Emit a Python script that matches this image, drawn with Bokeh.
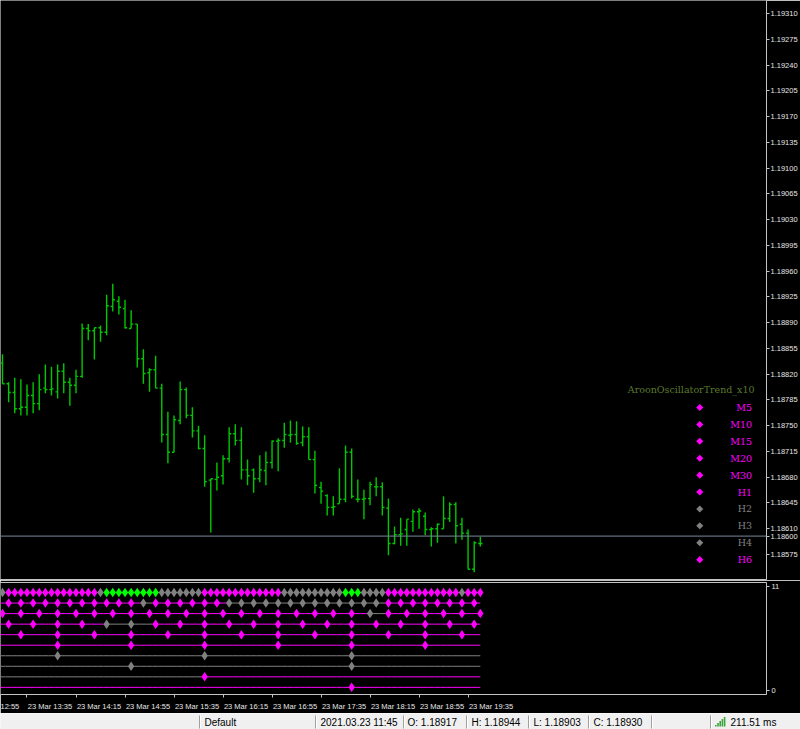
import numpy as np
from bokeh.plotting import figure
from bokeh.layouts import column
from bokeh.models import Range1d, LinearAxis, FixedTicker, NumeralTickFormatter, Span
from bokeh.core.properties import value
from bokeh.embed import file_html
from bokeh.resources import INLINE

# ---------------- data ----------------
first_bar_time = "13:15"
bar_minutes = 5

opens = [1.18835, 1.18807, 1.18795, 1.18773, 1.18775, 1.18791, 1.18780, 1.18801, 1.18799, 1.18796,
         1.18824, 1.18809, 1.18805, 1.18817, 1.18882, 1.18879, 1.18883, 1.18877, 1.18912, 1.18919,
         1.18909, 1.18882, 1.18888, 1.18841, 1.18822, 1.18826, 1.18801, 1.18738, 1.18714, 1.18757,
         1.18799, 1.18764, 1.18743, 1.18719, 1.18676, 1.18677, 1.18682, 1.18705, 1.18739, 1.18730,
         1.18690, 1.18690, 1.18678, 1.18689, 1.18700, 1.18729, 1.18730, 1.18737, 1.18738, 1.18727,
         1.18735, 1.18704, 1.18666, 1.18655, 1.18639, 1.18644, 1.18650, 1.18714, 1.18650, 1.18650,
         1.18651, 1.18667, 1.18667, 1.18638, 1.18590, 1.18602, 1.18609, 1.18620, 1.18633, 1.18627,
         1.18609, 1.18610, 1.18610, 1.18624, 1.18643, 1.18616, 1.18604, 1.18555, 1.18590]
highs = [1.18847, 1.18809, 1.18815, 1.18813, 1.18806, 1.18809, 1.18820, 1.18833, 1.18830, 1.18833,
         1.18835, 1.18815, 1.18826, 1.18889, 1.18888, 1.18883, 1.18886, 1.18928, 1.18943, 1.18926,
         1.18921, 1.18907, 1.18888, 1.18854, 1.18828, 1.18845, 1.18807, 1.18769, 1.18764, 1.18810,
         1.18802, 1.18775, 1.18750, 1.18737, 1.18678, 1.18700, 1.18710, 1.18748, 1.18752, 1.18748,
         1.18704, 1.18692, 1.18710, 1.18715, 1.18730, 1.18733, 1.18754, 1.18757, 1.18756, 1.18749,
         1.18748, 1.18716, 1.18674, 1.18657, 1.18654, 1.18692, 1.18723, 1.18719, 1.18677, 1.18663,
         1.18674, 1.18680, 1.18673, 1.18651, 1.18613, 1.18625, 1.18623, 1.18636, 1.18638, 1.18632,
         1.18612, 1.18617, 1.18654, 1.18646, 1.18646, 1.18625, 1.18609, 1.18593, 1.18599]
lows = [1.18807, 1.18782, 1.18767, 1.18764, 1.18764, 1.18767, 1.18771, 1.18794, 1.18791, 1.18787,
        1.18794, 1.18777, 1.18794, 1.18815, 1.18866, 1.18840, 1.18864, 1.18873, 1.18905, 1.18901,
        1.18882, 1.18882, 1.18829, 1.18807, 1.18796, 1.18801, 1.18727, 1.18699, 1.18714, 1.18752,
        1.18760, 1.18734, 1.18718, 1.18667, 1.18605, 1.18662, 1.18670, 1.18700, 1.18723, 1.18677,
        1.18669, 1.18659, 1.18673, 1.18669, 1.18692, 1.18688, 1.18720, 1.18727, 1.18724, 1.18722,
        1.18704, 1.18658, 1.18644, 1.18628, 1.18628, 1.18644, 1.18646, 1.18651, 1.18646, 1.18623,
        1.18642, 1.18654, 1.18628, 1.18574, 1.18589, 1.18587, 1.18587, 1.18606, 1.18610, 1.18601,
        1.18586, 1.18591, 1.18610, 1.18619, 1.18590, 1.18595, 1.18555, 1.18551, 1.18586]
closes = [1.18807, 1.18795, 1.18773, 1.18775, 1.18791, 1.18780, 1.18799, 1.18799, 1.18800, 1.18824,
          1.18809, 1.18805, 1.18817, 1.18882, 1.18879, 1.18883, 1.18877, 1.18913, 1.18921, 1.18911,
          1.18883, 1.18888, 1.18841, 1.18821, 1.18826, 1.18801, 1.18738, 1.18714, 1.18758, 1.18799,
          1.18764, 1.18743, 1.18719, 1.18674, 1.18678, 1.18680, 1.18705, 1.18739, 1.18730, 1.18690,
          1.18682, 1.18678, 1.18690, 1.18700, 1.18729, 1.18730, 1.18738, 1.18738, 1.18726, 1.18735,
          1.18704, 1.18669, 1.18661, 1.18639, 1.18640, 1.18650, 1.18714, 1.18654, 1.18650, 1.18651,
          1.18670, 1.18667, 1.18639, 1.18590, 1.18602, 1.18603, 1.18623, 1.18633, 1.18634, 1.18609,
          1.18610, 1.18616, 1.18624, 1.18643, 1.18614, 1.18604, 1.18555, 1.18591, 1.18590]

price_ticks = [1.19310, 1.19275, 1.19240, 1.19205, 1.19170, 1.19135, 1.19100, 1.19065, 1.19030,
               1.18995, 1.18960, 1.18925, 1.18890, 1.18855, 1.18820, 1.18785, 1.18750, 1.18715,
               1.18680, 1.18645, 1.18610, 1.18575]
bid_price = 1.18600

time_tick_labels = ["23 Mar 12:55", "23 Mar 13:35", "23 Mar 14:15", "23 Mar 14:55", "23 Mar 15:35",
                    "23 Mar 16:15", "23 Mar 16:55", "23 Mar 17:35", "23 Mar 18:15", "23 Mar 18:55",
                    "23 Mar 19:35"]

indicator_name = "AroonOscillatorTrend_x10"
tf_names = ["M5", "M10", "M15", "M20", "M30", "H1", "H2", "H3", "H4", "H6"]
tf_minutes = [5, 10, 15, 20, 30, 60, 120, 180, 240, 360]
# state before the first visible diamond of each row
tf_carry = ["M", "M", "M", "M", "M", "M", "G", "G", "G", "M"]
# state of each diamond (one per period start): M = magenta, G = gray, L = lime
tf_states = [
    "G" "MMMMMMMMMMMMMMM" "G" "LLLLLLLLL" "GGGGGGG" "MMMMMMMMMMMMM" "GGGGGGGGGG" "LLL" "GGGG"
    "MMMMMMMMMMMM" "G" "MMM",
    "MMMMMMMMMMM" "G" "MMMMMM" "GGGGGGGGGGGGG" "MMMMMMMM",
    "MMMMMMMMMMMMMMMMMMMM" "G" "MMMMMM",
    "MMMM" "GG" "MMMMMMMMMMMMMM",
    "MMMMMMMMMMMMM",
    "MMMMMM",
    "GGG",
    "GG",
    "M",
    "M",
]
legend_states = ["M", "M", "M", "M", "M", "M", "G", "G", "G", "M"]

status_profile = "Default"
status_time = "2021.03.23 11:45"
status_ohlc = ["O: 1.18917", "H: 1.18944", "L: 1.18903", "C: 1.18930"]
status_ping = "211.51 ms"

# ---------------- styling / layout ----------------
STATE_COL = {"M": "#ff00ff", "G": "#808080", "L": "#00ff00"}
BAR_COL = "#00c800"
AXIS_COL = "#c4c4c4"
LABEL_COL = "#e6e6e6"
TICK_FONT = "Liberation Sans"

W = 800
MAIN_H, SUB_H, STAT_H = 580, 133, 16
RIGHT_BORDER = 31

REF_BAR_PX = 6.15      # px per bar
REF_X0 = 2             # x of first bar
FRAME_W = W - RIGHT_BORDER
x_start = -REF_X0 / REF_BAR_PX
x_end = (FRAME_W - REF_X0) / REF_BAR_PX

K = 0.00035 / 25.76    # price per px
y_top = price_ticks[0] + 13 * K
y_bot = price_ticks[-1] - (579 - 554) * K


def data_x(px):
    return x_start + px / REF_BAR_PX


def data_y(py):
    return y_top - py * K


def hm(s):
    h, m = s.split(":")
    return int(h) * 60 + int(m)


n = len(opens)
idx = np.arange(n)
first_min = hm(first_bar_time)
bar_min = [first_min + bar_minutes * i for i in range(n)]

xr = Range1d(x_start, x_end)


def edge_axis():
    return LinearAxis(ticker=FixedTicker(ticks=[]), major_tick_out=0, major_tick_in=0,
                      minor_tick_out=0, minor_tick_in=0, major_label_standoff=0,
                      major_label_text_font_size="0px", axis_line_color=AXIS_COL)


# ---------------- main price window ----------------
main = figure(width=W, height=MAIN_H, x_range=xr, y_range=Range1d(y_bot, y_top),
              output_backend="svg", toolbar_location=None, x_axis_location=None,
              y_axis_location="right", min_border_left=0, min_border_right=RIGHT_BORDER,
              min_border_top=0, min_border_bottom=1, background_fill_color="#000000",
              border_fill_color="#000000", outline_line_color=None)
main.grid.visible = False
ya = main.yaxis[0]
ya.ticker = FixedTicker(ticks=price_ticks + [bid_price])
ya.formatter = NumeralTickFormatter(format="0.00000")
ya.major_label_text_font = TICK_FONT
ya.major_label_text_font_size = "7.5px"
ya.major_label_text_color = LABEL_COL
ya.major_tick_out = 3
ya.major_tick_in = 0
ya.minor_tick_out = 0
ya.minor_tick_in = 0
ya.major_label_standoff = 1
ya.axis_line_color = AXIS_COL
ya.major_tick_line_color = AXIS_COL
main.add_layout(edge_axis(), "below")

tick_len = 0.35
main.segment(idx, lows, idx, highs, line_color=BAR_COL, line_width=1.4)
main.segment(idx - tick_len, opens, idx, opens, line_color=BAR_COL, line_width=1.4)
main.segment(idx, closes, idx + tick_len, closes, line_color=BAR_COL, line_width=1.4)

main.add_layout(Span(location=bid_price, dimension="width", line_color="#778899", line_width=1))

# indicator legend drawn inside the price window
main.text(x=[data_x(757)], y=[data_y(389)], text=[indicator_name], text_align="right",
          text_baseline="middle", text_font=value("DejaVu Serif"), text_font_size="9.5px",
          text_color="#5a7a2c")
leg_py = [407 + 16.9 * i for i in range(len(tf_names))]
leg_cols = [STATE_COL[s] for s in legend_states]
main.scatter(x=[data_x(702)] * len(tf_names), y=[data_y(p) for p in leg_py], marker="square",
             angle=np.pi / 4, size=5, fill_color=leg_cols, line_color=None)
main.text(x=[data_x(754.5)] * len(tf_names), y=[data_y(p) for p in leg_py], text=tf_names,
          text_align="right", text_baseline="middle", text_font=value("DejaVu Serif"),
          text_font_size="9.5px", text_color=leg_cols)

# ---------------- indicator sub window ----------------
ROW_REF0, ROW_REF_STEP = 592.3, 10.82
SUB_TOP_REF, SUB_BOT_REF = 582, 697
n_rows = len(tf_names)
top_level = n_rows
sub_hi = top_level + (ROW_REF0 - SUB_TOP_REF) / ROW_REF_STEP
last_ref = ROW_REF0 + ROW_REF_STEP * (n_rows - 1)
sub_lo = 1 - (SUB_BOT_REF - last_ref) / ROW_REF_STEP
SC_PX = (692.5 - 586.5) / 11
sc_hi = 11 + (586.5 - SUB_TOP_REF) / SC_PX
sc_lo = 0 - (SUB_BOT_REF - 692.5) / SC_PX

sub = figure(width=W, height=SUB_H, x_range=xr, y_range=Range1d(sub_lo, sub_hi),
             output_backend="svg", toolbar_location=None, x_axis_location=None,
             y_axis_location=None, min_border_left=0, min_border_right=RIGHT_BORDER,
             min_border_top=2, min_border_bottom=SUB_H - 2 - (SUB_BOT_REF - SUB_TOP_REF),
             background_fill_color="#000000", border_fill_color="#000000",
             outline_line_color=None)
sub.grid.visible = False
sub.extra_y_ranges = {"scale": Range1d(sc_lo, sc_hi)}
sax = LinearAxis(y_range_name="scale", ticker=FixedTicker(ticks=[0, 11]),
                 major_label_text_font=TICK_FONT, major_label_text_font_size="7.5px",
                 major_label_text_color=LABEL_COL, major_tick_out=3, major_tick_in=0,
                 minor_tick_out=0, minor_tick_in=0, major_label_standoff=2,
                 axis_line_color=AXIS_COL, major_tick_line_color=AXIS_COL)
sub.add_layout(sax, "right")
sub.add_layout(edge_axis(), "above")

# time axis: ticks at the bar times, labels placed to the right of their ticks (MT4 style)
tick_bars = [(hm(t.split(" ")[-1]) - first_min) / bar_minutes for t in time_tick_labels]
label_shift = 3.75
label_pos = [b + label_shift for b in tick_bars]
shown = list(time_tick_labels)
shown[0] = shown[0].split(" ")[-1]   # first label is cut by the left edge
xa = LinearAxis(ticker=FixedTicker(ticks=label_pos, minor_ticks=tick_bars),
                major_label_overrides={p: t for p, t in zip(label_pos, shown)},
                major_tick_out=0, major_tick_in=0, minor_tick_out=3, minor_tick_in=0,
                minor_tick_line_color=AXIS_COL, axis_line_color=AXIS_COL,
                major_label_text_font=TICK_FONT, major_label_text_font_size="7.5px",
                major_label_text_color=LABEL_COL, major_label_standoff=4)
sub.add_layout(xa, "below")

seg_x0, seg_x1, seg_y, seg_c = [], [], [], []
dia_x, dia_y, dia_c = [], [], []
for r, (tf, carry, states) in enumerate(zip(tf_minutes, tf_carry, tf_states)):
    level = top_level - r
    starts = [i for i in range(n) if bar_min[i] % tf == 0]
    cur = carry
    j = 0
    for i in range(n):
        if j < len(starts) and starts[j] == i:
            cur = states[j]
            dia_x.append(i)
            dia_y.append(level)
            dia_c.append(STATE_COL[cur])
            j += 1
        seg_x0.append(i - 0.5)
        seg_x1.append(min(i + 0.5, n - 1))
        seg_y.append(level)
        seg_c.append(STATE_COL[cur])

sub.segment(seg_x0, seg_y, seg_x1, seg_y, line_color=seg_c, line_width=1)
sub.scatter(dia_x, dia_y, marker="diamond", size=9.5, fill_color=dia_c, line_color=None)

# ---------------- status bar ----------------
stat = figure(width=W, height=STAT_H, x_range=Range1d(0, 800), y_range=Range1d(16, 0),
              output_backend="svg", toolbar_location=None, x_axis_location=None,
              y_axis_location=None, min_border=0, min_border_left=0, min_border_right=0,
              min_border_top=0, min_border_bottom=0, background_fill_color="#f0f0f0",
              border_fill_color="#f0f0f0", outline_line_color=None)
if "frame_align" in stat.properties():
    stat.frame_align = False
stat.grid.visible = False
sep_x = [199, 315, 403, 466, 528, 588, 651, 710]
stat.segment(sep_x, [2] * len(sep_x), sep_x, [15] * len(sep_x), line_color="#a0a0a0", line_width=1)
stat.segment([s + 1 for s in sep_x], [2] * len(sep_x), [s + 1 for s in sep_x], [15] * len(sep_x),
             line_color="#ffffff", line_width=1)
stat_txt = [status_profile, status_time] + status_ohlc + [status_ping]
stat_x = [204, 320, 407, 471, 533, 593, 730]
stat.text(x=stat_x, y=[8.5] * len(stat_x), text=stat_txt, text_baseline="middle",
          text_align="left", text_font=value("Liberation Sans"), text_font_size="10px",
          text_color="#000000")
sig_l = [714.5, 716.7, 718.9, 721.1, 723.3]
sig_t = [11.5, 9.5, 7.5, 5.5, 3.5]
stat.quad(left=sig_l, right=[v + 1.6 for v in sig_l], top=sig_t, bottom=[13] * 5,
          fill_color="#3aa53a", line_color=None)

layout = column(main, sub, stat, spacing=0)
open("out.html", "w").write(file_html(layout, INLINE))
